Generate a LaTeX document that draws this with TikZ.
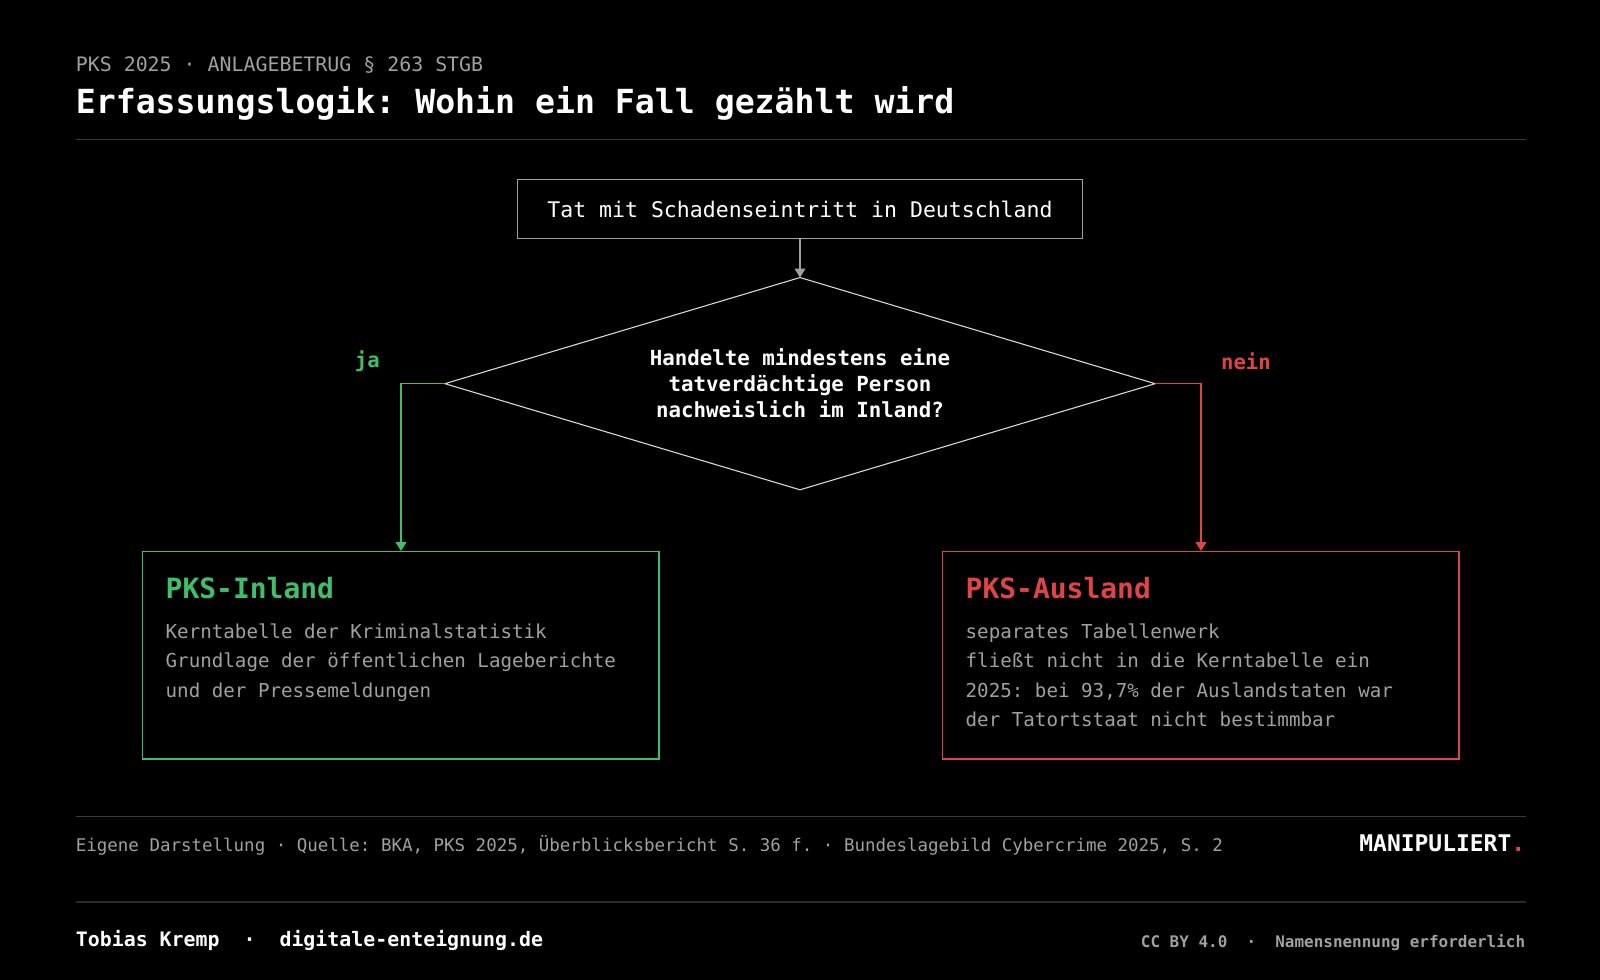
\documentclass[tikz,border=0pt]{standalone}
\usepackage{fontspec}
\setmonofont{DejaVu Sans Mono}
\renewcommand{\familydefault}{\ttdefault}
\usetikzlibrary{arrows.meta}
\definecolor{grn}{HTML}{3FBF6A}
\definecolor{rd}{HTML}{E04444}
\definecolor{gry}{HTML}{A0A0A0}
\definecolor{rule}{HTML}{3A3A3A}
\begin{document}
\begin{tikzpicture}[x=0.02cm,y=-0.02cm,
  txt/.style={inner sep=0pt,anchor=west},
  body/.style={txt,text=gry,font=\fontsize{10.7}{13}\selectfont,text height=8pt,text depth=2pt},
  conn/.style={line width=0.7pt,-{Triangle[length=5pt,width=6pt]}}]
\fill[black] (0,0) rectangle (1568,960);
\useasboundingbox (0,0) rectangle (1568,960);
\node[txt,text=gry,font=\fontsize{11.1}{13}\selectfont] (sub) at (74,64) {PKS 2025 · ANLAGEBETRUG § 263 STGB};
\node[txt,text=white,font=\bfseries\fontsize{18.5}{22}\selectfont] (title) at (74,101) {Erfassungslogik: Wohin ein Fall gezählt wird};
\draw[rule,line width=0.7pt] (74,137) -- (1495,137);
\node[draw=gry,line width=0.8pt,minimum width=554*0.02cm,minimum height=58*0.02cm,text=white,font=\fontsize{12}{14}\selectfont,inner sep=0pt] (start) at (784,205) {Tat mit Schadenseintritt in Deutschland};
\coordinate (dl) at (436,376); \coordinate (dt) at (784,272);
\coordinate (dr) at (1132,376); \coordinate (db) at (784,480);
\draw[white!85!black,line width=0.6pt] (dl) -- (dt) -- (dr) -- (db) -- cycle;
\node[text=white,font=\bfseries\fontsize{11.6}{14.5}\selectfont,align=center,inner sep=0pt] (q) at (784,376) {Handelte mindestens eine\\tatverdächtige Person\\nachweislich im Inland?};
\draw[conn,gry] (start.south) -- (dt);
\node[draw=grn,line width=0.8pt,minimum width=506*0.02cm,minimum height=203*0.02cm,anchor=north west] (inl) at (139,540) {};
\node[draw=rd,line width=0.8pt,minimum width=506*0.02cm,minimum height=203*0.02cm,anchor=north west] (aus) at (923,540) {};
\draw[conn,grn] (dl) -- (393,376) -- (393,540);
\draw[conn,rd] (dr) -- (1177,376) -- (1177,540);
\node[text=grn,font=\bfseries\fontsize{11.5}{13}\selectfont] (ja) at (360,354) {ja};
\node[text=rd,font=\bfseries\fontsize{11.5}{13}\selectfont] (nein) at (1221,354) {nein};
\node[txt,text=grn,font=\bfseries\fontsize{15.6}{18}\selectfont] (inlt) at (162,576) {PKS-Inland};
\node[body] (i1) at (162,620) {Kerntabelle der Kriminalstatistik};
\node[body] (i2) at (162,649) {Grundlage der öffentlichen Lageberichte};
\node[body] (i3) at (162,678) {und der Pressemeldungen};
\node[txt,text=rd,font=\bfseries\fontsize{15.6}{18}\selectfont] (aust) at (946,576) {PKS-Ausland};
\node[body] (a1) at (946,620) {separates Tabellenwerk};
\node[body] (a2) at (946,649) {fließt nicht in die Kerntabelle ein};
\node[body] (a3) at (946,678) {2025: bei 93,7\% der Auslandstaten war};
\node[body] (a4) at (946,707) {der Tatortstaat nicht bestimmbar};
\draw[rule,line width=0.7pt] (74,800) -- (1495,800);
\node[txt,text=gry,font=\fontsize{9.75}{12}\selectfont] (src) at (74,828) {Eigene Darstellung · Quelle: BKA, PKS 2025, Überblicksbericht S. 36 f. · Bundeslagebild Cybercrime 2025, S. 2};
\node[inner sep=0pt,anchor=east,text=white,font=\bfseries\fontsize{12.8}{15}\selectfont] (brand) at (1495,826) {MANIPULIERT\textcolor{rd}{.}};
\draw[rule!70!black,line width=0.7pt] (74,884) -- (1495,884);
\node[txt,text=white,font=\bfseries\fontsize{11.1}{13}\selectfont] (auth) at (74,922) {Tobias Kremp\ \ ·\ \ digitale-enteignung.de};
\node[inner sep=0pt,anchor=east,text=gry,font=\bfseries\fontsize{8.9}{11}\selectfont] (lic) at (1495,924) {CC BY 4.0\ \ ·\ \ Namensnennung erforderlich};
\end{tikzpicture}
\end{document}
